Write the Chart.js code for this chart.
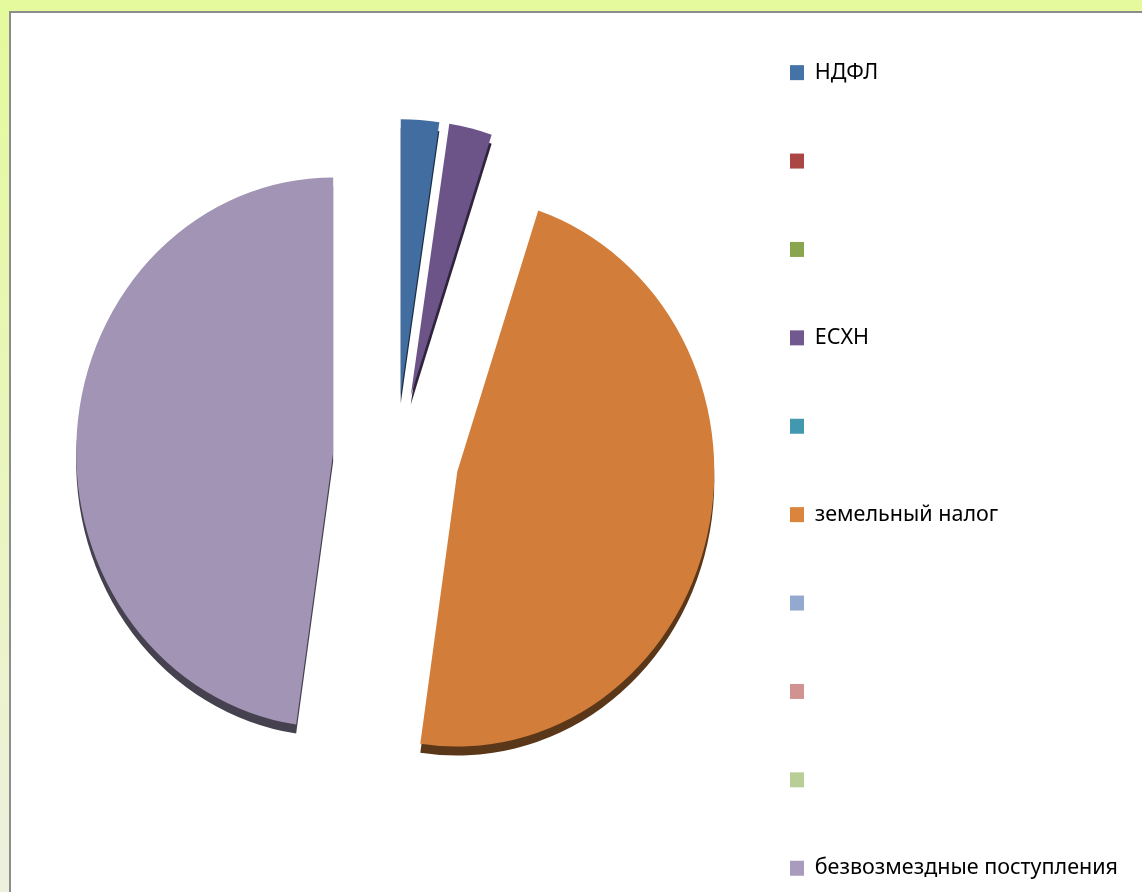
<!DOCTYPE html>
<html lang="ru">
<head>
<meta charset="utf-8">
<title>Структура доходов</title>
<script src="https://cdn.jsdelivr.net/npm/chart.js@4.4.1/dist/chart.umd.min.js"></script>
<style>
  html, body { margin: 0; padding: 0; width: 1142px; height: 892px; overflow: hidden; }
  body { position: relative; background: linear-gradient(to bottom, #e4fa9c 0%, #e9f5bc 50%, #eef0de 100%); }
  #panel { position: absolute; left: 9px; top: 11px; right: 0; bottom: 0; background: #fff;
           border-left: 2px solid #8c8c8c; border-top: 2px solid #8c8c8c; }
  #chart { position: absolute; left: 0; top: -5px; }
</style>
</head>
<body>
<div id="panel"></div>
<canvas id="chart" width="1142" height="960"></canvas>
<script>
// Income structure, % of total
const labels = ['НДФЛ', '', '', 'ЕСХН', '', 'земельный налог', '', '', '', 'безвозмездные поступления'];
const shares = [2.4, 0, 0, 2.7, 0, 47.2, 0, 0, 0, 47.7];
const colors = ['#4572a7', '#aa4643', '#89a54e', '#71588f', '#4198af',
                '#db843d', '#93a9cf', '#d19392', '#b9cd96', '#a99bbd'];

const FONT_SIZE = 21.5;
const ROW_PAD = 66.9;
const BOX_X = 790;
const PIE_CX = 396;
const LEGEND_NUDGE = 10;

// exploded, slightly tilted pie with a dark rim underneath
const EXPLODE = 63;
const SHIFT_Y = -18;
const TILT = 1.07;
const DEPTH = 9;

const tiltedPie = {
    id: 'tiltedPie',
    beforeDatasetDraw(chart, args) {
        const ctx = chart.ctx;
        args.meta.data.forEach(arc => {
            if (!arc.circumference) return;
            const mid = (arc.startAngle + arc.endAngle) / 2;
            const cx = arc.x + Math.cos(mid) * EXPLODE;
            const cy = arc.y + Math.sin(mid) * EXPLODE + SHIFT_Y;
            [[DEPTH, 'brightness(0.42)'], [0, 'brightness(0.96)']].forEach(([dy, filter]) => {
                ctx.save();
                ctx.filter = filter;
                ctx.translate(cx, cy + dy);
                ctx.scale(1, TILT);
                ctx.translate(-arc.x, -arc.y);
                arc.draw(ctx);
                ctx.restore();
            });
        });
        return false;
    }
};

// place legend boxes at BOX_X and pie centre at PIE_CX
const mctx = document.createElement('canvas').getContext('2d');
mctx.font = FONT_SIZE + 'px "Noto Sans"';
const textW = Math.max(...labels.map(l => mctx.measureText(l).width));
const itemW = 14 + FONT_SIZE / 2 + textW;
const padR = 1142 - BOX_X - itemW - LEGEND_NUDGE;
const padL = 2 * PIE_CX - (BOX_X - ROW_PAD);

new Chart(document.getElementById('chart'), {
    type: 'pie',
    data: {
        labels: labels,
        datasets: [{
            data: shares,
            backgroundColor: colors,
            borderWidth: 0
        }]
    },
    options: {
        responsive: false,
        animation: false,
        events: [],
        radius: 257,
        layout: { padding: { left: padL, right: padR, top: 0, bottom: 0 } },
        plugins: {
            legend: {
                position: 'right',
                align: 'start',
                labels: {
                    boxWidth: 14,
                    boxHeight: 15,
                    padding: ROW_PAD,
                    color: '#000',
                    font: { family: 'Noto Sans', size: FONT_SIZE }
                }
            },
            tooltip: { enabled: false }
        }
    },
    plugins: [tiltedPie]
});
</script>
</body>
</html>
